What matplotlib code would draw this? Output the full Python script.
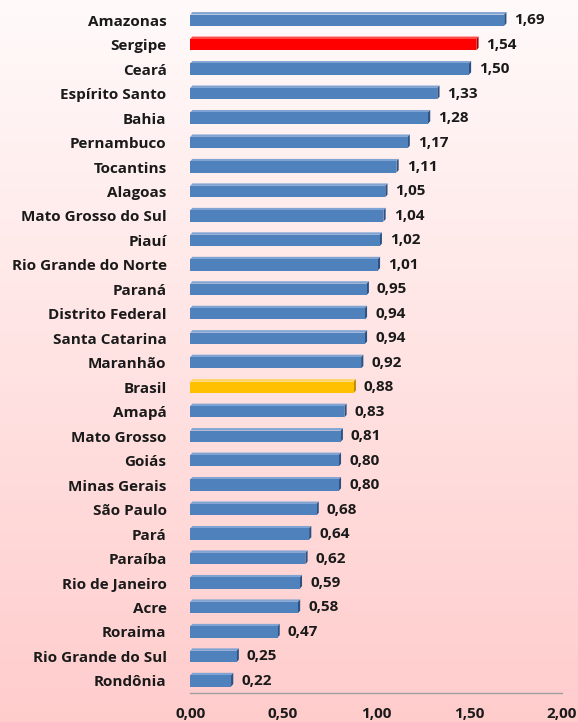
import matplotlib
matplotlib.use("Agg")
import matplotlib.pyplot as plt
import numpy as np
from matplotlib.patches import Polygon, Rectangle

states = ["Amazonas", "Sergipe", "Ceará", "Espírito Santo", "Bahia", "Pernambuco",
          "Tocantins", "Alagoas", "Mato Grosso do Sul", "Piauí", "Rio Grande do Norte",
          "Paraná", "Distrito Federal", "Santa Catarina", "Maranhão", "Brasil", "Amapá",
          "Mato Grosso", "Goiás", "Minas Gerais", "São Paulo", "Pará", "Paraíba",
          "Rio de Janeiro", "Acre", "Roraima", "Rio Grande do Sul", "Rondônia"]
values = [1.69, 1.54, 1.50, 1.33, 1.28, 1.17, 1.11, 1.05, 1.04, 1.02, 1.01, 0.95,
          0.94, 0.94, 0.92, 0.88, 0.83, 0.81, 0.80, 0.80, 0.68, 0.64, 0.62, 0.59,
          0.58, 0.47, 0.25, 0.22]
xticks = [0.0, 0.5, 1.0, 1.5, 2.0]

special = {"Sergipe": ("#FF0000", "#FF4A4A", "#B00000"),
           "Brasil": ("#FFC000", "#FFD55A", "#C08A00")}
default = ("#4F81BD", "#7FA3D3", "#2B5283")

fig = plt.figure(figsize=(5.78, 7.22), dpi=100)
# gradient background
bg = fig.add_axes([0, 0, 1, 1], zorder=-10)
grad = np.linspace(0, 1, 256).reshape(-1, 1)
top = np.array([255, 250, 250]) / 255
bot = np.array([255, 204, 204]) / 255
img = top[None, None, :] * (1 - grad[:, :, None]) + bot[None, None, :] * grad[:, :, None]
bg.imshow(img, aspect="auto", extent=[0, 1, 0, 1])
bg.axis("off")

ax = fig.add_axes([0.329, 0.040, 0.643, 0.949])
ax.patch.set_alpha(0)
font = "Open Sans"
fs = 11

h = 0.46
dx = 0.012
dy = 0.10
n = len(states)
ys = np.arange(n)
for y, s, v in zip(ys, states, values):
    front, light, dark = special.get(s, default)
    yb = y + h / 2
    yt = y - h / 2
    ax.add_patch(Polygon([(0, yt), (v, yt), (v + dx, yt - dy), (dx, yt - dy)],
                         closed=True, facecolor=light, edgecolor="none"))
    ax.add_patch(Polygon([(v, yt), (v + dx, yt - dy), (v + dx, yb - dy), (v, yb)],
                         closed=True, facecolor=dark, edgecolor="none"))
    ax.add_patch(Rectangle((0, yt), v, h, facecolor=front, edgecolor="none"))
    ax.text(v + 0.055, y, f"{v:.2f}".replace(".", ","), va="center", ha="left",
            fontsize=fs, fontweight="bold", family=font, color="#1a1a1a")

ax.set_xlim(0, 2.0)
ax.set_ylim(n - 0.5, -0.5)
ax.set_yticks(ys)
ax.set_yticklabels(states, fontsize=fs, fontweight="bold", family=font, color="#1a1a1a")
ax.set_xticks(xticks)
ax.set_xticklabels([f"{t:.2f}".replace(".", ",") for t in xticks], fontsize=fs,
                   fontweight="bold", family=font, color="#1a1a1a")
ax.tick_params(axis="y", length=0, pad=17)
ax.tick_params(axis="x", length=0, pad=10)
for sp in ["top", "right", "left"]:
    ax.spines[sp].set_visible(False)
ax.spines["bottom"].set_color("#A0A0A0")
ax.spines["bottom"].set_linewidth(1.0)

fig.savefig("out.png", dpi=100)
